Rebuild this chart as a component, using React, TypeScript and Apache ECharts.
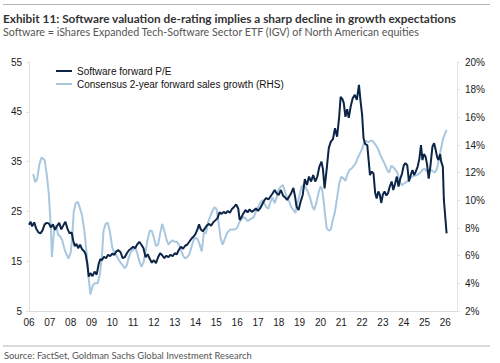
import React, { useEffect, useRef } from "react";
import * as echarts from "echarts";

const TITLE = "Exhibit 11: Software valuation de-rating implies a sharp decline in growth expectations";
const SUBTITLE = "Software = iShares Expanded Tech-Software Sector ETF (IGV) of North American equities";
const SOURCE = "Source: FactSet, Goldman Sachs Global Investment Research";
const PE_NAME = "Software forward P/E";
const GROWTH_NAME = "Consensus 2-year forward sales growth (RHS)";

// Software forward P/E (left axis), x = decimal year
const peYears = [
  2006.0, 2006.08, 2006.15, 2006.25, 2006.35, 2006.45, 2006.55, 2006.65, 2006.75, 2006.85, 2006.95,
  2007.05, 2007.15, 2007.25, 2007.35, 2007.45, 2007.55, 2007.65, 2007.75, 2007.85, 2007.95,
  2008.05, 2008.12, 2008.2, 2008.28, 2008.36, 2008.45, 2008.55, 2008.65, 2008.72, 2008.8, 2008.87, 2008.95,
  2009.05, 2009.15, 2009.25, 2009.35, 2009.42, 2009.5, 2009.6, 2009.7, 2009.8, 2009.9,
  2010.0, 2010.1, 2010.2, 2010.3, 2010.4, 2010.5, 2010.6, 2010.7, 2010.8, 2010.9,
  2011.0, 2011.1, 2011.2, 2011.3, 2011.4, 2011.5, 2011.6, 2011.7, 2011.8, 2011.9,
  2012.0, 2012.1, 2012.2, 2012.3, 2012.4, 2012.5, 2012.6, 2012.7, 2012.8, 2012.9,
  2013.0, 2013.1, 2013.2, 2013.3, 2013.4, 2013.5, 2013.6, 2013.7, 2013.8, 2013.9,
  2014.0, 2014.1, 2014.17, 2014.25, 2014.35, 2014.45, 2014.55, 2014.65, 2014.75, 2014.85, 2014.95,
  2015.05, 2015.15, 2015.25, 2015.35, 2015.45, 2015.55, 2015.65, 2015.75, 2015.85, 2015.95,
  2016.05, 2016.12, 2016.2, 2016.3, 2016.4, 2016.5, 2016.6, 2016.7, 2016.8, 2016.9,
  2017.0, 2017.1, 2017.2, 2017.3, 2017.4, 2017.5, 2017.6, 2017.7, 2017.8, 2017.9,
  2018.0, 2018.1, 2018.2, 2018.3, 2018.4, 2018.5, 2018.6, 2018.7, 2018.78, 2018.85, 2018.95,
  2019.05, 2019.15, 2019.25, 2019.35, 2019.45, 2019.55, 2019.65, 2019.75, 2019.85, 2019.95,
  2020.05, 2020.12, 2020.2, 2020.3, 2020.4, 2020.5, 2020.6, 2020.7, 2020.8, 2020.9, 2020.97,
  2021.05, 2021.12, 2021.2, 2021.28, 2021.36, 2021.45, 2021.55, 2021.65, 2021.75, 2021.85, 2021.93,
  2022.0, 2022.07, 2022.15, 2022.25, 2022.3, 2022.38, 2022.45, 2022.55, 2022.63, 2022.7, 2022.78, 2022.85, 2022.92,
  2023.0, 2023.08, 2023.17, 2023.25, 2023.33, 2023.42, 2023.5, 2023.58, 2023.67, 2023.75, 2023.83, 2023.92,
  2024.0, 2024.08, 2024.17, 2024.25, 2024.33, 2024.42, 2024.5, 2024.58, 2024.67, 2024.75, 2024.83, 2024.9, 2024.97,
  2025.05, 2025.12, 2025.2, 2025.28, 2025.38, 2025.46, 2025.53, 2025.6, 2025.67, 2025.75, 2025.8, 2025.88, 2025.93,
  2026.06,
];
const peValues = [
  22.3, 22.9, 22.0, 22.8, 21.5, 20.8, 20.6, 21.2, 22.4, 22.7, 22.6,
  21.8, 22.4, 21.3, 22.1, 22.7, 21.4, 22.2, 22.9, 21.5, 20.6,
  20.8, 19.2, 18.0, 18.5, 17.6, 18.3, 17.4, 17.0, 16.4, 14.5, 11.9, 12.6,
  12.0, 12.9, 12.3, 14.5, 15.4, 15.2, 15.9, 15.6, 16.3, 16.0,
  16.5, 16.3, 17.0, 17.2, 16.8, 15.6, 15.8, 16.6, 17.2, 17.5,
  17.9, 17.6, 18.4, 18.9, 18.3, 17.6, 15.8, 16.4, 15.5, 14.7,
  15.2, 14.6, 15.8, 16.6, 16.2, 15.6, 16.1, 15.8, 16.3, 16.0,
  16.6, 16.4, 17.3, 17.9, 17.5, 18.1, 18.3, 18.9, 19.5, 19.9,
  20.5, 21.5, 22.4, 21.4, 21.0, 21.6, 22.2, 22.5, 22.1, 22.8, 23.2,
  23.6, 24.8, 24.5, 24.9, 24.6, 25.1, 24.7, 25.5, 25.9, 26.4,
  25.6, 23.3, 23.8, 24.6, 25.3, 24.8, 25.4, 24.9, 25.2, 25.6,
  25.1, 25.6, 26.4, 27.2, 27.7, 27.4, 28.0, 28.6, 29.3, 28.6,
  28.3, 29.3, 28.2, 27.8, 27.3, 28.0, 28.7, 29.7, 28.0, 26.0, 25.3,
  27.0, 28.3, 31.5, 30.3, 32.0, 31.0, 32.3, 31.0, 32.0, 34.0,
  35.0, 33.5, 29.6, 33.5, 37.7, 39.0, 39.5, 41.7, 40.0, 44.0, 48.0,
  47.6, 46.8, 44.0, 45.5, 43.8, 46.0, 47.7, 48.4, 47.4, 50.4, 47.0,
  44.5, 39.7, 38.5, 38.3, 36.0, 32.3, 33.0, 32.6, 28.7, 27.6, 29.0, 28.4, 26.7,
  28.4, 29.0, 28.2, 28.7, 30.0, 31.0, 29.3, 30.5, 32.0, 30.0, 31.5, 32.6,
  34.2, 34.7, 34.3, 31.0, 32.2, 33.3, 32.3, 33.0, 34.0, 35.5, 38.3, 35.3, 36.5,
  36.0, 34.5, 31.6, 34.0, 38.0, 38.7, 37.5, 36.0, 35.3, 36.5, 35.0, 34.0, 27.3,
  20.6,
];

// Consensus 2-year forward sales growth, % (right axis)
const growthYears = [
  2006.2, 2006.3, 2006.4, 2006.5, 2006.6, 2006.68, 2006.75, 2006.85, 2006.95,
  2007.05, 2007.1, 2007.2, 2007.3, 2007.4, 2007.5, 2007.6, 2007.7, 2007.8, 2007.9,
  2008.0, 2008.07, 2008.15, 2008.25, 2008.35, 2008.45, 2008.55, 2008.65, 2008.75, 2008.85, 2008.95,
  2009.05, 2009.15, 2009.3, 2009.4, 2009.5, 2009.58, 2009.68, 2009.78, 2009.88,
  2010.0, 2010.1, 2010.2, 2010.35, 2010.5, 2010.6, 2010.7, 2010.8, 2010.9,
  2011.0, 2011.1, 2011.2, 2011.3, 2011.4, 2011.5, 2011.6, 2011.7, 2011.8, 2011.9,
  2012.0, 2012.1, 2012.2, 2012.3, 2012.4, 2012.5, 2012.6, 2012.7, 2012.8, 2012.9,
  2013.0, 2013.1, 2013.2, 2013.3, 2013.4, 2013.5, 2013.6, 2013.7, 2013.8, 2013.9,
  2014.0, 2014.1, 2014.2, 2014.3, 2014.4, 2014.5, 2014.6, 2014.7, 2014.8, 2014.9,
  2015.0, 2015.1, 2015.2, 2015.3, 2015.4, 2015.5, 2015.6, 2015.7, 2015.8, 2015.9,
  2016.0, 2016.1, 2016.2, 2016.3, 2016.4, 2016.5, 2016.6, 2016.7, 2016.8, 2016.9,
  2017.0, 2017.1, 2017.2, 2017.3, 2017.4, 2017.5, 2017.6, 2017.7, 2017.8, 2017.9,
  2018.0, 2018.1, 2018.2, 2018.3, 2018.4, 2018.5, 2018.6, 2018.7, 2018.8, 2018.9,
  2019.0, 2019.1, 2019.2, 2019.3, 2019.4, 2019.5, 2019.6, 2019.7, 2019.8, 2019.9,
  2020.0, 2020.08, 2020.15, 2020.22, 2020.3, 2020.4, 2020.5, 2020.6, 2020.7, 2020.8, 2020.9,
  2021.0, 2021.1, 2021.2, 2021.3, 2021.4, 2021.5, 2021.6, 2021.7, 2021.8, 2021.9,
  2022.0, 2022.1, 2022.2, 2022.3, 2022.4, 2022.5, 2022.6, 2022.7, 2022.8, 2022.9,
  2023.0, 2023.1, 2023.2, 2023.3, 2023.4, 2023.5, 2023.6, 2023.7, 2023.8, 2023.9,
  2024.0, 2024.1, 2024.2, 2024.3, 2024.4, 2024.5, 2024.6, 2024.7, 2024.8, 2024.9,
  2025.0, 2025.1, 2025.2, 2025.3, 2025.4, 2025.5, 2025.6, 2025.7, 2025.8, 2025.9,
  2026.06,
];
const growthValues = [
  11.9, 11.3, 11.6, 12.6, 13.1, 13.0, 12.9, 11.9, 10.5,
  8.0, 5.9, 7.8, 8.2, 7.5, 7.4, 7.1, 6.5, 6.1, 5.8,
  6.2, 7.2, 9.2, 9.8, 9.9, 9.4, 8.9, 7.9, 6.5, 4.6, 3.2,
  3.8, 4.0, 4.0, 4.6, 5.9, 7.8, 8.3, 8.4, 7.8,
  6.6, 6.2, 6.0, 5.6, 5.3, 5.1, 5.3, 5.9, 6.3,
  6.4, 6.6, 6.2, 5.6, 5.2, 5.5, 6.3, 7.2, 7.8, 7.8,
  7.3, 6.7, 6.8, 7.6, 8.3, 7.8, 7.2, 6.8, 7.0, 7.1,
  7.0, 7.0, 6.8, 6.4, 6.0, 5.8, 5.9, 6.1, 6.6, 7.1,
  7.3, 7.2, 6.8, 6.3, 7.7, 7.6, 8.4, 8.8, 9.2, 9.5,
  9.4, 8.5, 7.3, 6.8, 7.2, 7.6, 7.8, 7.9, 7.9, 7.9,
  8.0, 8.4, 8.6, 8.8, 8.7, 8.5, 8.6, 8.7, 8.8, 9.2,
  9.5, 9.8, 10.0, 9.8, 9.5, 9.4, 9.9, 10.2, 9.8, 10.2,
  10.8, 11.0, 11.1, 10.6, 10.2, 9.9, 9.5, 9.3, 9.1, 9.8,
  10.4, 11.0, 11.1, 10.9, 10.6, 10.2, 9.6, 9.3, 9.8, 10.5,
  11.0, 10.8, 10.0, 9.0, 8.0, 7.8, 7.9, 8.6, 9.2, 10.2, 11.2,
  11.7, 11.6, 11.4, 11.9, 12.2, 12.3, 12.5, 12.7, 13.1, 13.4,
  13.7, 14.2, 14.3, 14.2, 14.3, 14.3, 14.1, 13.9, 13.6, 13.2,
  12.9, 12.6, 12.2, 12.0, 12.5, 12.4, 12.2, 12.0, 11.4, 11.1,
  11.2, 11.3, 11.4, 11.6, 11.7, 11.8, 11.8, 11.9, 12.0, 12.2,
  12.3, 12.1, 12.0, 12.2, 12.1, 12.0, 12.3, 13.0, 13.8, 14.5,
  15.1,
];

const yearTicksMin = 2006;
const yearTicksMax = 2026.56;

export default function App() {
  const ref = useRef<HTMLDivElement>(null);

  useEffect(() => {
    if (!ref.current) return;
    const chart = echarts.init(ref.current, undefined, { renderer: "svg" });
    const axisFont = { fontFamily: "'Liberation Sans', Arial, sans-serif", fontSize: 10, color: "#1a1a1a" };
    chart.setOption({
      animation: false,
      backgroundColor: "#ffffff",
      grid: { left: 29, right: 43, top: 62, bottom: 52, containLabel: false },
      legend: {
        data: [PE_NAME, GROWTH_NAME],
        orient: "vertical",
        left: 56,
        top: 66,
        padding: 0,
        itemWidth: 16,
        itemHeight: 2,
        itemGap: 3,
        icon: "rect",
        textStyle: { fontFamily: "'Liberation Sans', Arial, sans-serif", fontSize: 10, color: "#111" },
      },
      xAxis: {
        type: "value",
        min: yearTicksMin,
        max: yearTicksMax,
        interval: 1,
        splitLine: { show: false },
        axisTick: { show: false },
        axisLine: { show: true, lineStyle: { color: "#dcdcdc", width: 1 } },
        axisLabel: {
          ...axisFont,
          margin: 6,
          showMaxLabel: false,
          formatter: (v: number) => (Math.abs(v - Math.round(v)) < 1e-6 ? String(Math.round(v)).slice(2) : ""),
        },
      },
      yAxis: [
        {
          type: "value",
          position: "left",
          min: 5,
          max: 55,
          interval: 10,
          splitLine: { show: false },
          axisLine: { show: true, lineStyle: { color: "#e2e2e2" } },
          axisTick: { show: true, length: 3, lineStyle: { color: "#e2e2e2" } },
          axisLabel: { ...axisFont, margin: 7 },
        },
        {
          type: "value",
          position: "right",
          min: 2,
          max: 20,
          interval: 2,
          splitLine: { show: false },
          axisLine: { show: true, lineStyle: { color: "#e2e2e2" } },
          axisTick: { show: true, length: 3, lineStyle: { color: "#e2e2e2" } },
          axisLabel: { ...axisFont, margin: 8, formatter: "{value}%" },
        },
      ],
      series: [
        {
          name: GROWTH_NAME,
          type: "line",
          yAxisIndex: 1,
          showSymbol: false,
          symbol: "none",
          data: growthYears.map((y, i) => [y, growthValues[i]]),
          itemStyle: { color: "#a9c7df" },
          lineStyle: { color: "#a9c7df", width: 2 },
        },
        {
          name: PE_NAME,
          type: "line",
          yAxisIndex: 0,
          showSymbol: false,
          symbol: "none",
          data: peYears.map((y, i) => [y, peValues[i]]),
          itemStyle: { color: "#0c2547" },
          lineStyle: { color: "#0c2547", width: 2 },
        },
      ],
      graphic: [
        { type: "line", shape: { x1: 3, y1: 4.5, x2: 490, y2: 4.5 }, style: { stroke: "#b5b5b5", lineWidth: 1.2 } },
        {
          type: "text",
          x: 3,
          y: 18,
          style: { text: TITLE, font: "bold 11.8px Lato, sans-serif", fill: "#333333", textVerticalAlign: "middle" },
        },
        {
          type: "text",
          x: 3,
          y: 31,
          style: { text: SUBTITLE, font: "10.7px Lato, sans-serif", fill: "#555555", textVerticalAlign: "middle" },
        },
        { type: "line", shape: { x1: 3, y1: 346, x2: 490, y2: 346 }, style: { stroke: "#b5b5b5", lineWidth: 1.2 } },
        {
          type: "text",
          x: 4,
          y: 355,
          style: { text: SOURCE, font: "9.4px Lato, sans-serif", fill: "#555555", textVerticalAlign: "middle" },
        },
      ],
    });
    return () => chart.dispose();
  }, []);

  return (
    <div
      ref={ref}
      style={{ position: "absolute", left: 0, top: 0, width: 500, height: 363, background: "#fff" }}
    />
  );
}
